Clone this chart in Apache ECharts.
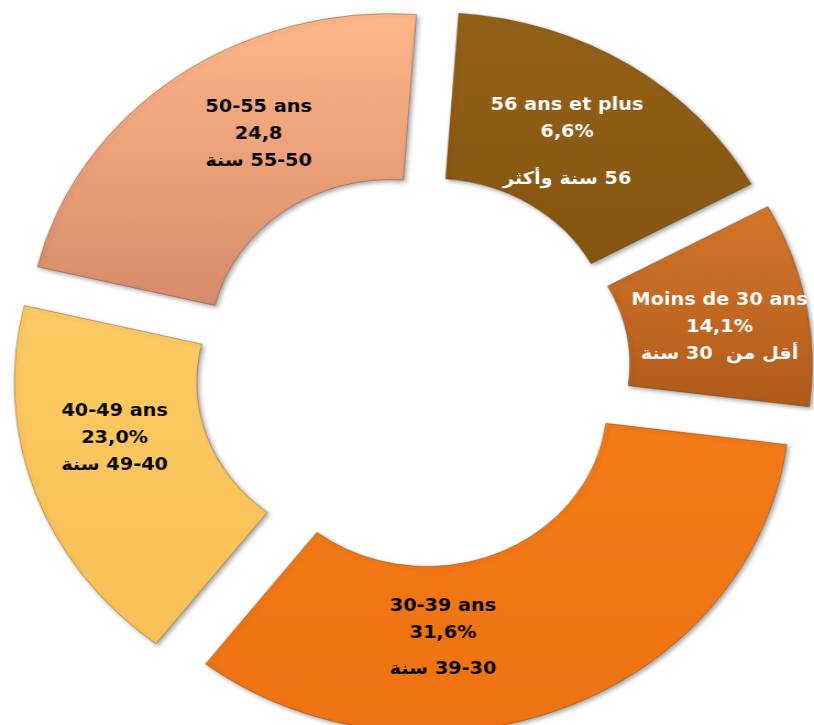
<!DOCTYPE html>
<html><head><meta charset="utf-8">
<script src="https://cdn.jsdelivr.net/npm/echarts@6/dist/echarts.min.js"></script>
<style>
html,body{margin:0;padding:0;background:#fff;overflow:hidden;width:814px;height:725px}
#wrap{width:814px;height:725px;overflow:hidden;position:relative}
#chart{width:740px;height:725px;transform:scaleX(1.1);transform-origin:0 0}
</style></head><body>
<div id="wrap"><div id="chart"></div></div>
<script>
// Categories (clockwise from 12 o'clock)
const categoriesFr = ['56 ans et plus', 'Moins de 30 ans', '30-39 ans', '40-49 ans', '50-55 ans'];
const categoriesAr = ['56 سنة وأكثر', 'أقل من  30 سنة', '39-30 سنة', '49-40 سنة', '55-50 سنة'];
// Values as printed in the labels
const labelPercents = [6.6, 14.1, 31.6, 23.0, 24.8];
const valueLabels = ['6,6%', '14,1%', '31,6%', '23,0%', '24,8'];
// Slice sizes as drawn in the picture (share of the ring, %)
const sliceShares = [15.9, 10.0, 33.4, 18.3, 22.4];

// Styles (kept apart from the data)
const colorsTop = ['#946119', '#D4762A', '#F27A17', '#FDCB63', '#FFB689'];
const colorsBottom = ['#845510', '#B05B1C', '#EE7312', '#F8C056', '#D78B6A'];
const labelColors = ['#ffffff', '#ffffff', '#000000', '#000000', '#000000'];
const arLineHeights = [67, 27, 45, 27, 27];
const labelShift = [[-13, 20], [0, 9], [-81, 9], [-3, -27], [28, -7]];

const FONT = '"DejaVu Sans", sans-serif';
const chart = echarts.init(document.getElementById('chart'), null, {renderer: 'canvas'});

const data = categoriesFr.map((name, i) => ({
  name: name,
  value: sliceShares[i],
  selected: true,
  itemStyle: {
    color: new echarts.graphic.LinearGradient(0, 0, 0, 1, [
      {offset: 0, color: colorsTop[i]},
      {offset: 1, color: colorsBottom[i]}
    ])
  },
  label: {
    formatter: '{t|' + categoriesFr[i] + '}\n{t|' + valueLabels[i] + '}\n{a|\u2067' + categoriesAr[i] + '\u2069}',
    rich: {
      t: {color: labelColors[i], fontSize: 17.5, fontWeight: 'bold', fontFamily: FONT, lineHeight: 27, align: 'center'},
      a: {color: labelColors[i], fontSize: 17.5, fontWeight: 'bold', fontFamily: FONT, lineHeight: arLineHeights[i], align: 'center'}
    }
  }
}));

chart.setOption({
  animation: false,
  backgroundColor: '#ffffff',
  series: [{
    type: 'pie',
    center: [375, 371],
    radius: [164, 330],
    startAngle: 85.9,
    clockwise: true,
    selectedMode: 'multiple',
    selectedOffset: 34,
    avoidLabelOverlap: false,
    itemStyle: {
      borderColor: 'rgba(90,50,10,0.35)',
      borderWidth: 1,
      shadowBlur: 4,
      shadowOffsetX: 2,
      shadowOffsetY: 2,
      shadowColor: 'rgba(0,0,0,0.35)'
    },
    select: {
      itemStyle: {
        borderColor: 'rgba(90,50,10,0.35)',
        borderWidth: 1
      }
    },
    emphasis: {scale: false},
    label: {show: true, position: 'inside'},
    labelLine: {show: false},
    labelLayout: function (p) {
      return {dx: labelShift[p.dataIndex][0], dy: labelShift[p.dataIndex][1]};
    },
    data: data
  }]
});
</script>
</body></html>
